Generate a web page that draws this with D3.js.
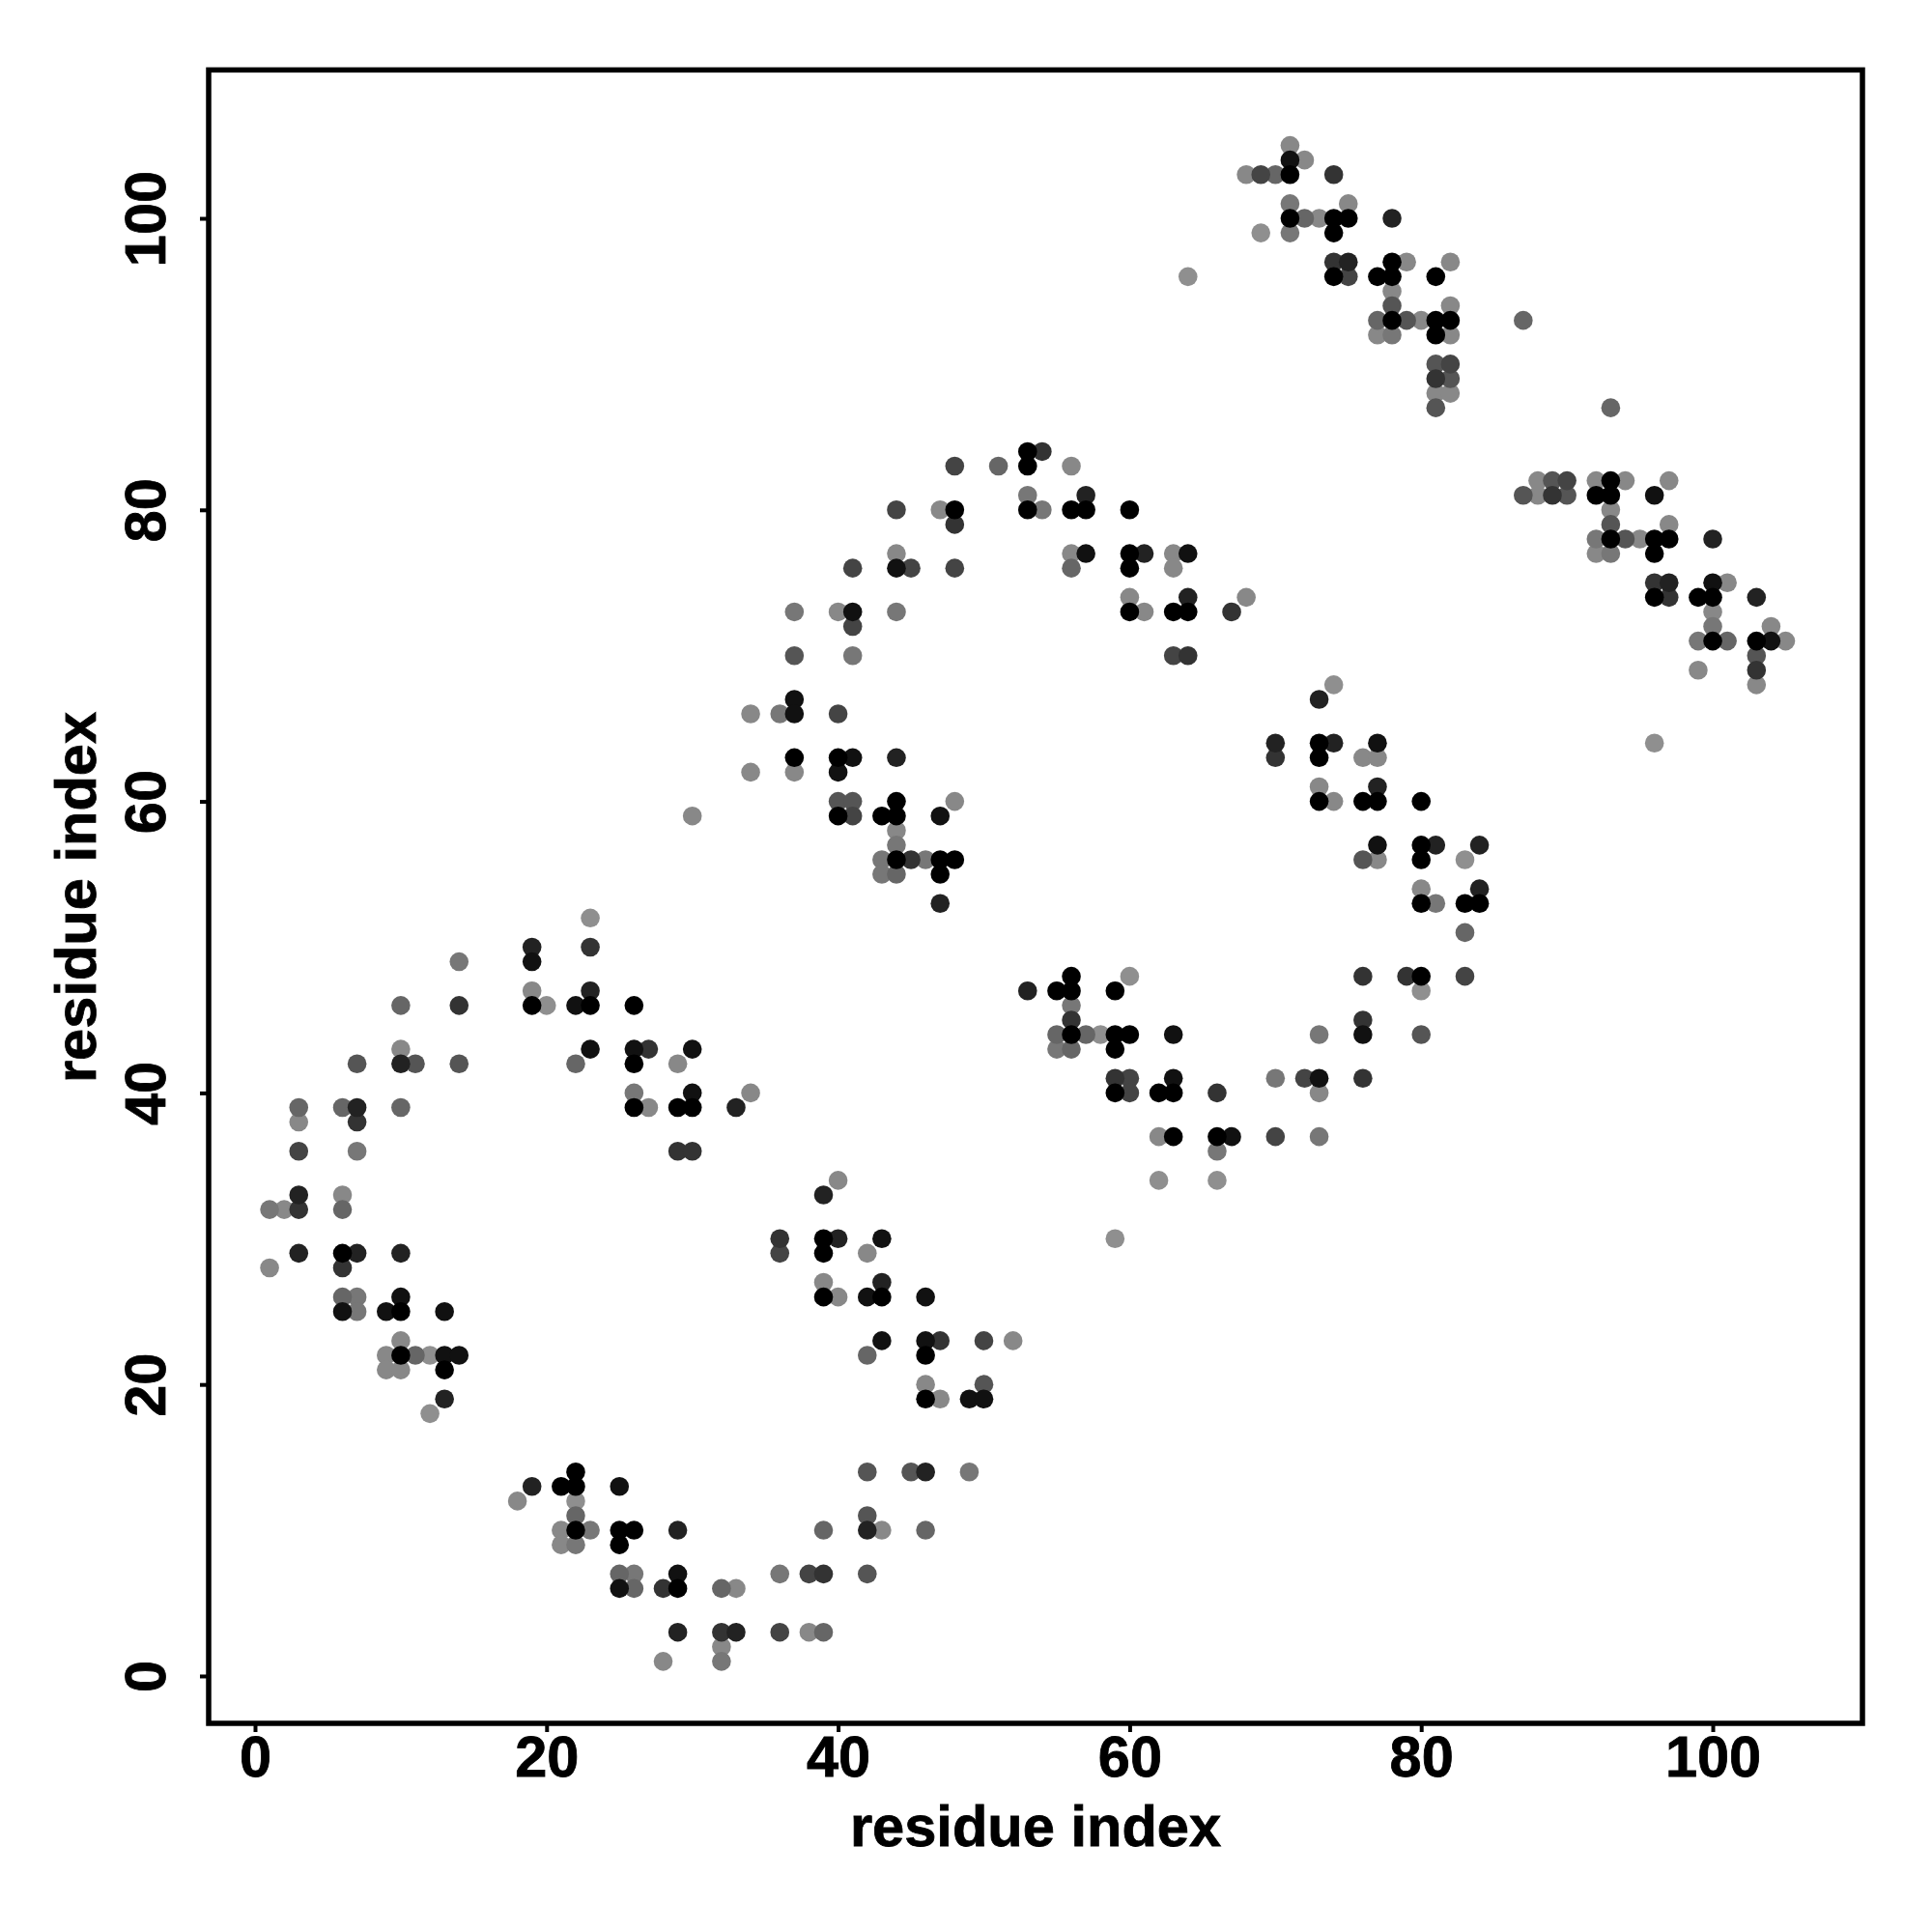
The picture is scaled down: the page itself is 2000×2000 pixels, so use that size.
<!DOCTYPE html>
<html>
<head>
<meta charset="utf-8">
<script src="https://cdn.jsdelivr.net/npm/d3@7"></script>
<style>
html,body{margin:0;padding:0;background:#fff}
svg{display:block}
text{font-family:"Liberation Sans",Arial,sans-serif;font-weight:bold;fill:#000;stroke:#000;stroke-width:0.8px}
</style>
</head>
<body>
<svg id="chart" width="2000" height="2000"></svg>
<script>
const xTickValues = [0,20,40,60,80,100];
const yTickValues = [0,20,40,60,80,100];
const axisLabel = "residue index";

const contacts909090 = [[20,46],[12,22],[12,18],[23,52],[69,99],[64,96],[74,68],[96,64],[83,56],[60,48],[58,44],[80,47],[62,34],[66,34],[59,30],[22,12]];
const contacts888 = [[19,47],[10,43],[29,42],[27,39],[34,40],[3,38],[40,34],[6,33],[2,32],[42,29],[1,28],[39,27],[40,26],[10,23],[9,22],[9,21],[10,21],[46,20],[47,19],[18,12],[43,10],[21,10],[21,9],[33,6],[38,3],[32,2],[28,1],[52,23],[47,80],[44,77],[40,73],[34,66],[34,62],[37,62],[48,60],[30,59],[44,58],[71,105],[72,104],[68,103],[75,101],[73,100],[79,97],[82,97],[78,95],[82,94],[80,93],[77,92],[82,92],[81,88],[82,88],[56,83],[88,82],[92,82],[94,82],[97,82],[88,81],[93,80],[97,79],[95,78],[56,77],[63,77],[92,77],[63,76],[101,75],[60,74],[68,74],[61,73],[100,73],[104,72],[105,71],[99,69],[103,68],[76,63],[77,63],[73,61],[74,60],[77,56],[80,54],[73,40],[62,37]];
const contacts777 = [[26,40],[7,36],[1,32],[7,26],[7,25],[23,10],[22,9],[26,7],[36,7],[49,14],[32,1],[14,49],[37,73],[44,73],[36,66],[41,70],[44,57],[43,56],[46,56],[43,55],[71,101],[71,99],[78,92],[53,81],[54,80],[92,78],[93,77],[100,72],[99,71],[81,53],[56,46],[73,44],[55,43],[70,41],[66,36],[73,37]];
const contacts666 = [[10,46],[22,42],[3,39],[6,39],[10,39],[6,32],[6,26],[11,22],[42,22],[22,11],[39,10],[46,10],[25,7],[26,6],[32,6],[39,3],[44,55],[70,103],[72,100],[77,93],[87,93],[93,87],[51,83],[56,76],[101,71],[83,51],[55,44],[57,44],[56,43]];
const contacts555 = [[7,42],[11,42],[14,42],[50,20],[42,14],[45,14],[42,11],[42,7],[37,70],[40,60],[41,60],[78,94],[79,93],[81,90],[82,89],[81,87],[89,82],[87,81],[90,81],[93,79],[94,78],[103,70],[76,56],[80,44]];
const contacts444 = [[3,36],[36,29],[50,23],[38,7],[36,3],[48,83],[44,80],[41,76],[45,76],[48,76],[41,72],[40,66],[41,59],[69,103],[75,96],[82,90],[90,82],[63,70],[83,48],[60,41],[72,41],[60,40],[70,37]];
const contacts333 = [[14,46],[27,43],[7,38],[29,36],[30,36],[3,32],[36,30],[6,28],[47,23],[39,7],[28,6],[32,3],[48,79],[45,56],[23,50],[74,103],[74,97],[89,81],[81,89],[64,70],[103,69],[70,63],[54,84],[67,73],[97,74],[96,75],[76,48],[79,48],[56,45],[76,45],[59,41],[76,41],[66,40]];
const contacts222 = [[10,42],[7,39],[33,39],[3,33],[39,33],[40,30],[3,29],[7,29],[10,29],[43,27],[13,19],[46,14],[19,13],[29,10],[42,10],[29,3],[33,3],[23,47],[44,63],[47,53],[19,50],[78,100],[75,97],[57,81],[100,78],[61,77],[97,75],[64,74],[103,74],[70,64],[74,64],[73,67],[77,61],[81,57],[84,57],[84,54],[53,47]];
const contacts111 = [[22,46],[23,43],[26,43],[30,43],[30,40],[43,30],[10,26],[42,26],[46,26],[6,25],[9,25],[13,25],[43,23],[46,23],[13,22],[14,22],[49,19],[50,19],[25,13],[25,6],[29,7],[44,76],[37,67],[37,66],[41,63],[40,62],[47,59],[41,73],[19,49],[71,104],[96,81],[57,77],[64,77],[100,75],[104,71],[77,64],[77,57],[63,44],[76,44],[63,41],[73,41],[67,37]];
const contacts000 = [[19,46],[23,46],[26,46],[26,42],[26,39],[29,39],[30,39],[39,30],[6,29],[39,29],[39,26],[43,26],[10,25],[10,22],[13,21],[46,22],[46,19],[22,14],[21,13],[22,13],[22,10],[25,10],[26,10],[25,9],[29,6],[48,80],[37,63],[40,63],[44,60],[40,59],[43,59],[44,59],[44,56],[47,56],[48,56],[47,55],[71,103],[71,100],[74,100],[75,100],[74,99],[78,97],[74,96],[77,96],[78,96],[81,96],[78,93],[81,93],[82,93],[81,92],[53,84],[53,83],[93,82],[92,81],[93,81],[53,80],[56,80],[57,80],[60,80],[93,78],[96,78],[97,78],[60,77],[96,77],[60,76],[96,74],[99,74],[100,74],[60,73],[63,73],[64,73],[100,71],[103,71],[73,64],[73,63],[73,60],[76,60],[77,60],[80,60],[80,57],[80,56],[80,53],[83,53],[84,53],[56,48],[80,48],[55,47],[56,47],[59,47],[56,44],[59,44],[60,44],[59,43],[59,40],[62,40],[63,40],[63,37],[66,37]];

const layers = [
  ["#8f8f8f", contacts909090],
  ["#888888", contacts888],
  ["#777777", contacts777],
  ["#666666", contacts666],
  ["#555555", contacts555],
  ["#444444", contacts444],
  ["#333333", contacts333],
  ["#222222", contacts222],
  ["#111111", contacts111],
  ["#000000", contacts000]
];

const box = {left:216, right:1928, top:72.4, bottom:1784};
const x = d3.scaleLinear().domain([-3.18,110.27]).range([box.left,box.right]);
const y = d3.scaleLinear().domain([-3.25,110.18]).range([box.bottom,box.top]);
const svg = d3.select("#chart");

svg.selectAll("g.layer").data(layers).join("g").attr("class","layer")
  .attr("fill",d=>d[0])
  .selectAll("circle").data(d=>d[1]).join("circle")
  .attr("cx",d=>x(d[0])).attr("cy",d=>y(d[1])).attr("r",9.8);

const fontSize = 59.5;
const gx = svg.append("g").attr("transform",`translate(0,${box.bottom})`)
  .call(d3.axisBottom(x).tickValues(xTickValues).tickSize(9).tickPadding(0).tickFormat(d3.format("d")));
const gy = svg.append("g").attr("transform",`translate(${box.left},0)`)
  .call(d3.axisLeft(y).tickValues(yTickValues).tickSize(9).tickPadding(0).tickFormat(d3.format("d")));
[gx,gy].forEach(g=>{
  g.select(".domain").remove();
  g.selectAll(".tick line").attr("stroke","#000").attr("stroke-width",4);
  g.selectAll("text").style("font-size",fontSize+"px").style("font-family",'"Liberation Sans",Arial,sans-serif').style("font-weight","bold");
});
gx.selectAll("text").attr("dy",null).attr("y",54.5).attr("text-anchor","middle");
gy.selectAll("text").attr("x",null).attr("dy",null).attr("text-anchor","middle")
  .attr("transform","translate(-45,0) rotate(-90)");

svg.append("rect").attr("x",box.left).attr("y",box.top)
  .attr("width",box.right-box.left).attr("height",box.bottom-box.top)
  .attr("fill","none").attr("stroke","#000").attr("stroke-width",5.5);

svg.append("text").attr("x",1072).attr("y",1911)
  .attr("text-anchor","middle").style("font-size","59.6px").text(axisLabel);
svg.append("text").attr("text-anchor","middle").style("font-size","59.6px")
  .attr("transform",`translate(99,929) rotate(-90)`).text(axisLabel);
</script>
</body>
</html>
